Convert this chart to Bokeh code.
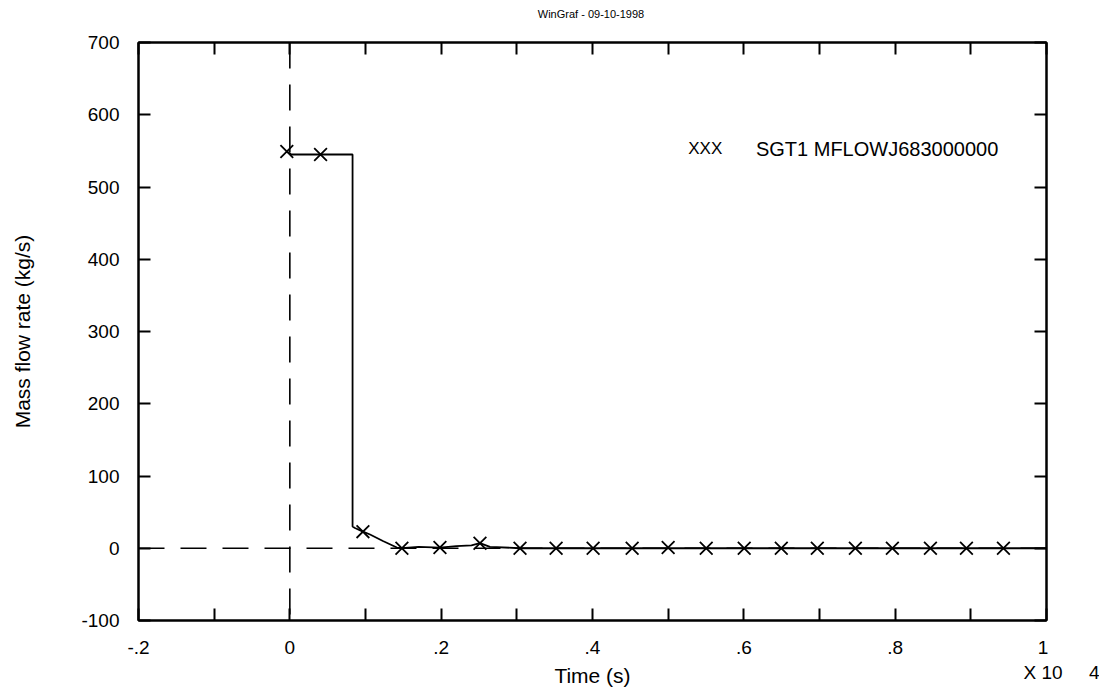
from bokeh.plotting import figure
from bokeh.models import Range1d, LinearAxis, FixedTicker, Span, Label
from bokeh.embed import file_html
from bokeh.resources import INLINE

# ---- data (time in s, mass flow in kg/s) ----
line_t = [-40, 20, 829, 829, 860, 966, 1060, 1230, 1415, 1481, 1700, 1984, 2200, 2400, 2513, 2645, 3042, 10000]
line_v = [549, 545, 545, 30, 28, 23, 19, 10, 1, 0, 2, 1, 3, 4, 7, 2, 0, 0]
marker_t = [-40, 406, 966, 1481, 1984, 2513, 3042, 3519, 4008, 4524, 5000, 5503,
            6005, 6495, 6971, 7474, 7963, 8466, 8942, 9431]
marker_v = [549, 545, 23, 0, 1, 7, 0, 0, 0, 0, 1, 0, 0, 0, 0, 0, 0, 0, 0, 0]
x_ticks = list(range(-2000, 10001, 1000))
NB = "\u00a0"
x_tick_labels = {-2000: "-.2", 0: "0", 2000: ".2", 4000: ".4", 6000: ".6", 8000: ".8",
                 10000: "1\n" + NB * 7 + "X 10" + NB * 5 + "4"}
y_ticks = list(range(-100, 701, 100))
y_tick_labels = {t: str(t) for t in y_ticks}
series_marker_text = "XXX"
series_name = "SGT1 MFLOWJ683000000"
header = "WinGraf  - 09-10-1998"

FONT = "Liberation Sans"

p = figure(width=1099, height=689, output_backend="svg", toolbar_location=None,
           x_range=Range1d(-2000, 10000), y_range=Range1d(-100, 700),
           x_axis_location=None, y_axis_location=None,
           min_border_left=138, min_border_right=53, min_border_top=42, min_border_bottom=69)
p.xgrid.visible = False
p.ygrid.visible = False
p.outline_line_color = "black"
p.outline_line_width = 2
p.background_fill_color = "white"
p.border_fill_color = "white"

def style_axis(ax):
    ax.axis_line_color = "black"
    ax.axis_line_width = 2
    ax.major_tick_in = 12
    ax.major_tick_out = 0
    ax.major_tick_line_width = 2
    ax.minor_tick_line_color = None
    ax.major_label_text_font = FONT
    ax.major_label_text_font_size = "19px"
    ax.major_label_text_color = "black"
    ax.axis_label_text_font = FONT
    ax.axis_label_text_font_style = "normal"
    ax.axis_label_text_font_size = "21px"
    ax.axis_label_text_color = "black"

xb = LinearAxis(ticker=FixedTicker(ticks=x_ticks),
                major_label_overrides={t: x_tick_labels.get(t, "") for t in x_ticks},
                axis_label="Time (s)")
style_axis(xb)
xb.major_label_standoff = 16
xb.axis_label_standoff = -22
p.add_layout(xb, "below")

# top axis: ticks only; carries the header line as its label
xt = LinearAxis(ticker=FixedTicker(ticks=x_ticks), axis_label=header,
                major_label_overrides={t: "" for t in x_ticks})
style_axis(xt)
xt.major_label_standoff = 0
xt.axis_label_text_font_size = "11px"
xt.axis_label_standoff = 23
p.add_layout(xt, "above")

yl = LinearAxis(ticker=FixedTicker(ticks=y_ticks), major_label_overrides=y_tick_labels,
                axis_label="Mass flow rate (kg/s)")
style_axis(yl)
yl.major_label_standoff = 19
yl.axis_label_standoff = 44
p.add_layout(yl, "left")

yr = LinearAxis(ticker=FixedTicker(ticks=y_ticks), major_label_overrides={t: "" for t in y_ticks})
style_axis(yr)
yr.major_label_standoff = 0
p.add_layout(yr, "right")

# dashed reference lines
p.add_layout(Span(location=0, dimension="height", line_color="black", line_width=1.6, line_dash="26 16"))
p.add_layout(Span(location=0, dimension="width", line_color="black", line_width=1.6, line_dash="26 16"))

# data
p.line(line_t, line_v, line_color="black", line_width=1.8)
p.scatter(marker_t, marker_v, marker="x", size=18, line_color="black", line_width=1.8)

# legend-like text
p.add_layout(Label(x=5265, y=553, text=series_marker_text, text_font=FONT, text_font_size="17px",
                   text_baseline="middle", text_align="left", text_color="black"))
p.add_layout(Label(x=6160, y=553, text=series_name, text_font=FONT, text_font_size="20px",
                   text_baseline="middle", text_align="left", text_color="black"))

open("out.html", "w").write(file_html(p, INLINE))
